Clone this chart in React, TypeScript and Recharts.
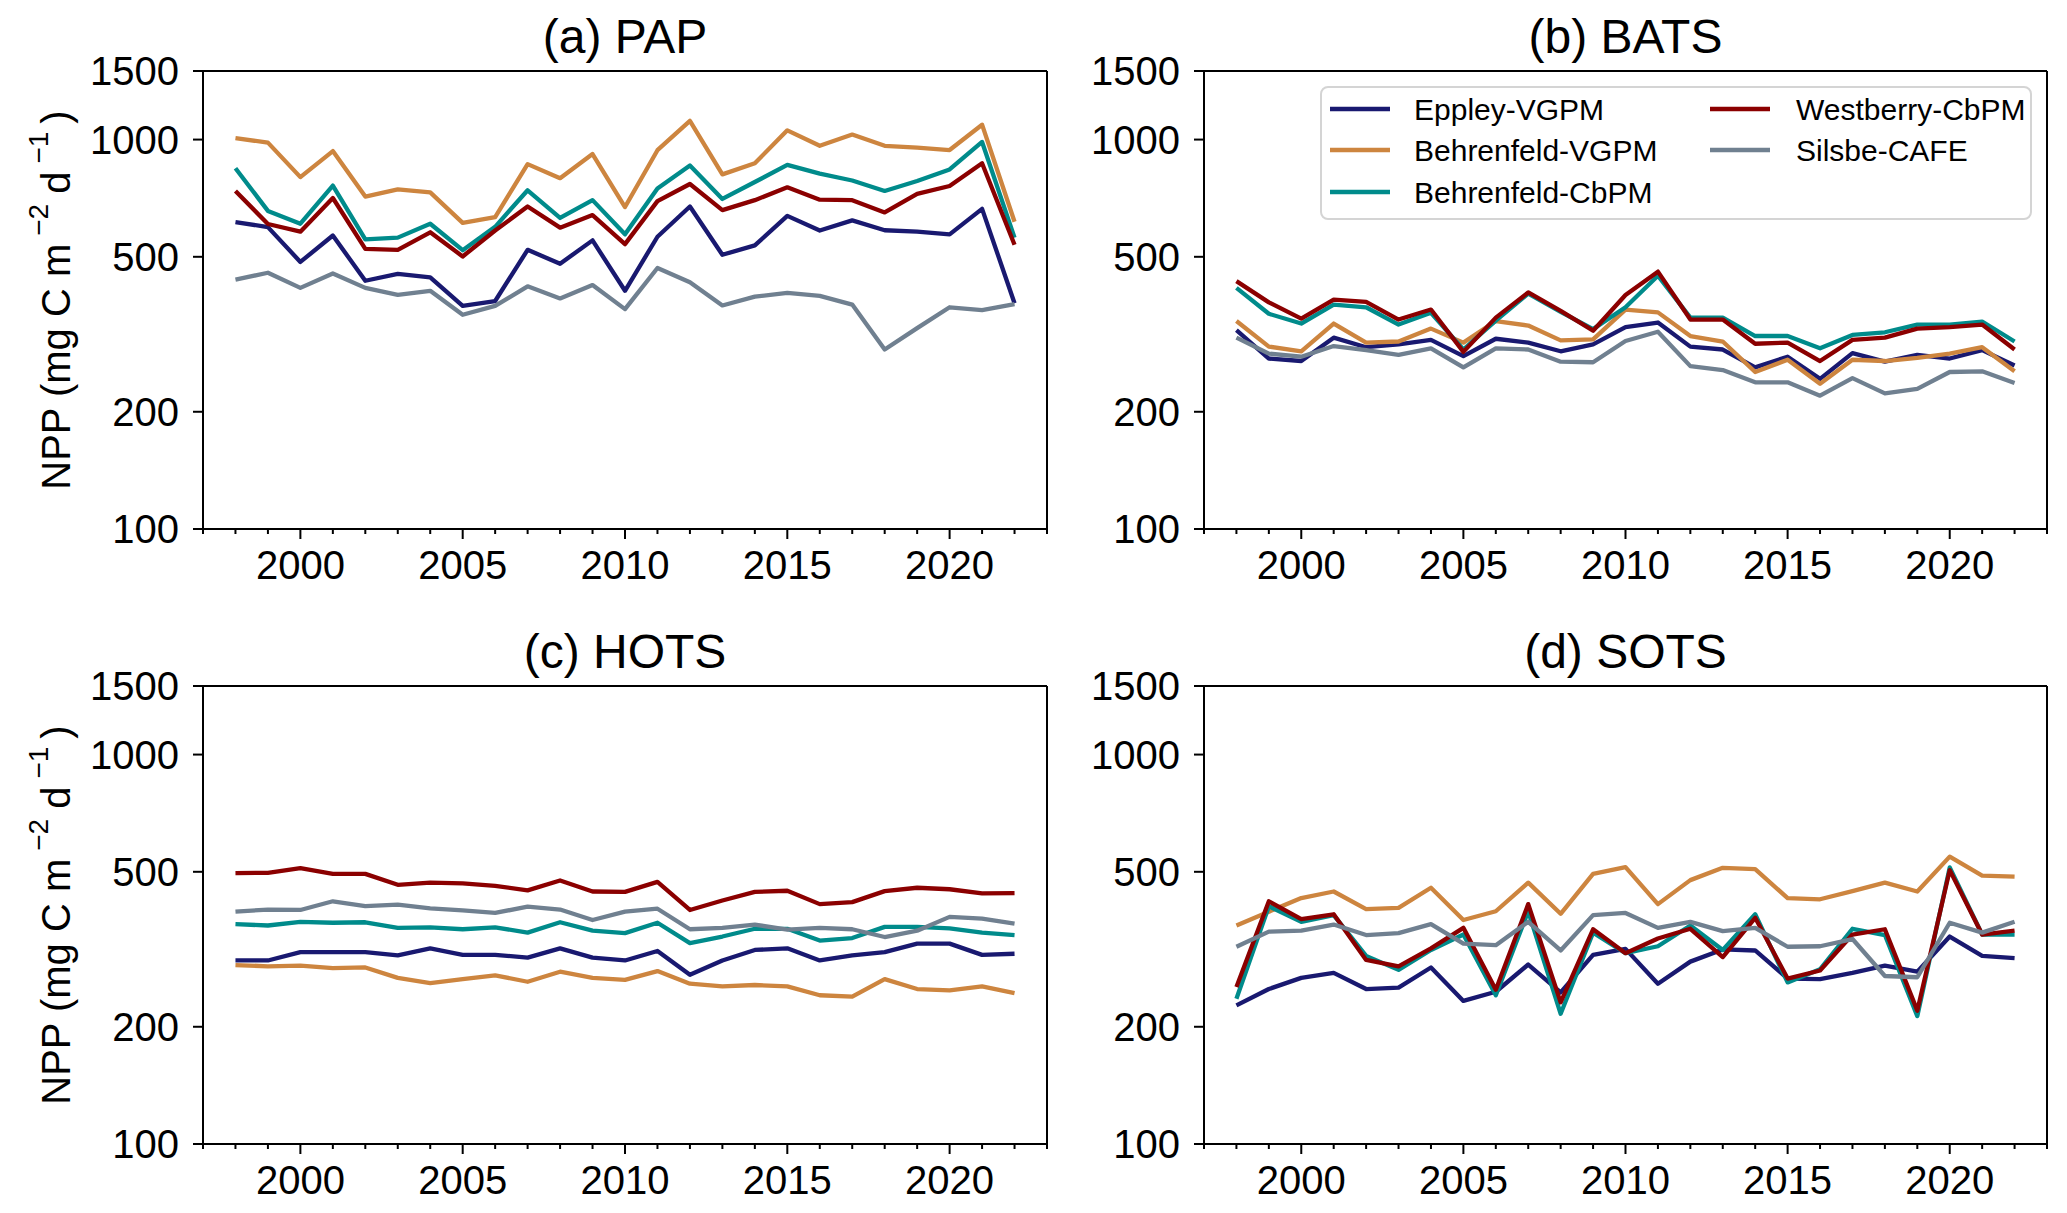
import React from "react";
import { LineChart, Line, XAxis, YAxis, ReferenceLine, Legend } from "recharts";

const FONT = "'Liberation Sans', Arial, Helvetica, sans-serif";

const years = [1998, 1999, 2000, 2001, 2002, 2003, 2004, 2005, 2006, 2007, 2008, 2009, 2010, 2011, 2012, 2013, 2014, 2015, 2016, 2017, 2018, 2019, 2020, 2021, 2022];
const xTicks = [1997, 1998, 1999, 2000, 2001, 2002, 2003, 2004, 2005, 2006, 2007, 2008, 2009, 2010, 2011, 2012, 2013, 2014, 2015, 2016, 2017, 2018, 2019, 2020, 2021, 2022, 2023];
const yTicks = [100, 200, 500, 1000, 1500];

const models = ["Eppley-VGPM", "Behrenfeld-VGPM", "Behrenfeld-CbPM", "Westberry-CbPM", "Silsbe-CAFE"];
const colors = ["#191970", "#cd853f", "#008b8b", "#8b0000", "#708090"];

// (a) PAP
const papEppley = [614, 596, 485, 567, 434, 452, 443, 374, 385, 521, 480, 551, 409, 563, 673, 506, 535, 637, 584, 620, 585, 580, 571, 664, 380];
const papBehVgpm = [1009, 982, 801, 934, 714, 745, 732, 611, 632, 865, 796, 918, 671, 939, 1117, 814, 869, 1056, 964, 1030, 964, 953, 940, 1092, 615];
const papBehCbpm = [844, 656, 608, 762, 554, 560, 608, 520, 597, 741, 629, 699, 571, 749, 858, 704, 778, 861, 818, 785, 738, 783, 838, 986, 560];
const papWestberry = [738, 607, 580, 708, 524, 521, 578, 501, 584, 673, 594, 640, 539, 695, 769, 659, 699, 754, 701, 699, 650, 725, 760, 869, 537];
const papSilsbe = [437, 455, 416, 453, 416, 399, 409, 355, 374, 420, 391, 423, 367, 468, 430, 375, 395, 404, 397, 377, 289, 328, 371, 365, 378];

// (b) BATS
const batsEppley = [324, 274, 270, 310, 293, 298, 306, 278, 308, 301, 286, 298, 330, 339, 294, 289, 260, 277, 243, 283, 269, 280, 274, 288, 263];
const batsBehVgpm = [342, 294, 286, 337, 301, 303, 327, 301, 342, 333, 305, 307, 366, 360, 313, 303, 253, 272, 236, 272, 270, 275, 282, 293, 254];
const batsBehCbpm = [416, 357, 337, 377, 371, 335, 359, 289, 343, 402, 361, 326, 371, 447, 349, 349, 313, 313, 291, 315, 320, 335, 335, 341, 303];
const batsWestberry = [433, 382, 347, 388, 383, 345, 366, 285, 349, 405, 363, 323, 399, 458, 345, 345, 299, 301, 270, 306, 310, 327, 330, 335, 289];
const batsSilsbe = [310, 282, 277, 295, 288, 280, 291, 260, 291, 289, 269, 268, 304, 321, 262, 256, 238, 238, 220, 244, 223, 229, 253, 254, 237];

// (c) HOTS
const hotsEppley = [296, 296, 311, 311, 311, 305, 318, 306, 306, 301, 318, 301, 296, 313, 272, 296, 315, 318, 296, 305, 311, 327, 327, 306, 308];
const hotsBehVgpm = [288, 286, 287, 283, 284, 267, 259, 265, 271, 261, 277, 267, 264, 278, 258, 254, 256, 254, 241, 239, 265, 250, 248, 254, 244];
const hotsBehCbpm = [367, 364, 372, 370, 371, 359, 360, 356, 360, 349, 371, 353, 348, 370, 328, 341, 357, 357, 333, 338, 361, 361, 358, 349, 344];
const hotsWestberry = [496, 497, 511, 494, 494, 463, 469, 467, 460, 448, 475, 445, 444, 471, 399, 422, 444, 447, 413, 418, 446, 455, 451, 440, 441];
const hotsSilsbe = [395, 400, 399, 420, 408, 412, 403, 398, 392, 407, 400, 376, 395, 402, 356, 359, 366, 355, 359, 356, 340, 353, 383, 379, 368];

// (d) SOTS
const sotsEppley = [227, 250, 267, 275, 250, 252, 284, 233, 246, 289, 245, 306, 317, 258, 294, 316, 314, 266, 265, 275, 287, 277, 341, 304, 300];
const sotsBehVgpm = [364, 395, 428, 445, 401, 404, 455, 376, 396, 469, 390, 494, 514, 413, 476, 512, 508, 428, 425, 446, 469, 445, 547, 489, 486];
const sotsBehCbpm = [236, 408, 372, 387, 304, 280, 315, 345, 241, 396, 216, 349, 309, 322, 364, 315, 389, 260, 281, 357, 344, 213, 513, 345, 345];
const sotsWestberry = [253, 420, 378, 389, 297, 286, 318, 359, 249, 413, 231, 356, 309, 337, 357, 302, 381, 266, 279, 345, 356, 220, 505, 345, 353];
const sotsSilsbe = [321, 351, 353, 366, 344, 348, 367, 327, 324, 372, 314, 387, 392, 359, 372, 352, 359, 321, 322, 336, 270, 268, 370, 349, 372];

const buildRows = (series: number[][]) =>
  years.map((year, i) => {
    const row: Record<string, number> = { year };
    series.forEach((s, k) => {
      row[models[k]] = s[i];
    });
    return row;
  });

const YAXIS_W = 120;
const XAXIS_H = 60;

const panels = [
  {
    title: "(a) PAP",
    rows: buildRows([papEppley, papBehVgpm, papBehCbpm, papWestberry, papSilsbe]),
    left: 0, top: 0, width: 1060, height: 600,
    margin: { top: 71, right: 13, bottom: 11, left: 83 },
    yLabel: true, legend: false,
  },
  {
    title: "(b) BATS",
    rows: buildRows([batsEppley, batsBehVgpm, batsBehCbpm, batsWestberry, batsSilsbe]),
    left: 1060, top: 0, width: 1000, height: 600,
    margin: { top: 71, right: 13, bottom: 11, left: 24 },
    yLabel: false, legend: true,
  },
  {
    title: "(c) HOTS",
    rows: buildRows([hotsEppley, hotsBehVgpm, hotsBehCbpm, hotsWestberry, hotsSilsbe]),
    left: 0, top: 600, width: 1060, height: 613,
    margin: { top: 86, right: 13, bottom: 9, left: 83 },
    yLabel: true, legend: false,
  },
  {
    title: "(d) SOTS",
    rows: buildRows([sotsEppley, sotsBehVgpm, sotsBehCbpm, sotsWestberry, sotsSilsbe]),
    left: 1060, top: 600, width: 1000, height: 613,
    margin: { top: 86, right: 13, bottom: 9, left: 24 },
    yLabel: false, legend: false,
  },
];

const XTick = (props: any) => {
  const { x, y, payload } = props;
  const major = payload.value % 5 === 0;
  return (
    <g>
      <line x1={x} x2={x} y1={y} y2={y + (major ? 10 : 5)} stroke="#000" strokeWidth={2} />
      {major && (
        <text x={x} y={y + 50} textAnchor="middle" fontSize={40} fontFamily={FONT} fill="#000">
          {payload.value}
        </text>
      )}
    </g>
  );
};

const YTick = (props: any) => {
  const { x, y, payload } = props;
  return (
    <g>
      <line x1={x - 10} x2={x} y1={y} y2={y} stroke="#000" strokeWidth={2} />
      <text x={x - 24} y={y} dy="0.36em" textAnchor="end" fontSize={40} fontFamily={FONT} fill="#000">
        {payload.value}
      </text>
    </g>
  );
};

const YLabel = ({ cx, cy }: { cx: number; cy: number }) => (
  <text
    transform={`translate(${cx},${cy}) rotate(-90)`}
    textAnchor="middle"
    fontSize={40}
    fontFamily={FONT}
    fill="#000"
  >
    NPP (mg C m
    <tspan fontSize={28} dy={-22} dx={8}>−2</tspan>
    <tspan dy={22} dx={10}>d</tspan>
    <tspan fontSize={28} dy={-22} dx={8}>−1</tspan>
    <tspan dy={22} dx={8}>)</tspan>
  </text>
);

const LegendBox = () => {
  const cols = [
    { hx: 10, tx: 94, items: [0, 1, 2] },
    { hx: 390, tx: 476, items: [3, 4] },
  ];
  const rowY = [23, 64, 106];
  return (
    <svg width={712} height={134} style={{ display: "block" }}>
      <rect x={1} y={1} width={710} height={132} rx={7} fill="#fff" fillOpacity={0.8} stroke="#d4d4d4" strokeWidth={2} />
      {cols.map((c) =>
        c.items.map((m, r) => (
          <g key={models[m]}>
            <line x1={c.hx} x2={c.hx + 60} y1={rowY[r]} y2={rowY[r]} stroke={colors[m]} strokeWidth={4.5} />
            <text x={c.tx} y={rowY[r]} dy="0.36em" fontSize={30} fontFamily={FONT} fill="#000">
              {models[m]}
            </text>
          </g>
        ))
      )}
    </svg>
  );
};

const Panel = ({ p }: { p: (typeof panels)[number] }) => {
  const plotLeft = p.margin.left + YAXIS_W;
  const plotW = p.width - p.margin.right - plotLeft;
  const titleX = plotLeft + plotW / 2;
  const titleY = p.margin.top - 18;
  const plotTop = p.margin.top;
  const plotH = p.height - p.margin.bottom - XAXIS_H - plotTop;
  return (
    <div style={{ position: "absolute", left: p.left, top: p.top }}>
      <LineChart width={p.width} height={p.height} data={p.rows} margin={p.margin}>
        <XAxis
          dataKey="year"
          type="number"
          domain={[1997, 2023]}
          ticks={xTicks}
          interval={0}
          allowDataOverflow
          height={XAXIS_H}
          tickLine={false}
          tickSize={0}
          tickMargin={0}
          tick={<XTick />}
          axisLine={{ stroke: "#000", strokeWidth: 2 }}
        />
        <YAxis
          type="number"
          scale="log"
          domain={[100, 1500]}
          ticks={yTicks}
          interval={0}
          allowDataOverflow
          width={YAXIS_W}
          tickLine={false}
          tickSize={0}
          tickMargin={0}
          tick={<YTick />}
          axisLine={{ stroke: "#000", strokeWidth: 2 }}
          label={
            p.yLabel
              ? { content: () => <YLabel cx={70} cy={plotTop + plotH / 2} /> }
              : undefined
          }
        />
        <ReferenceLine
          y={1500}
          stroke="#000"
          strokeWidth={2}
          label={{
            content: () => (
              <text x={titleX} y={titleY} textAnchor="middle" fontSize={48} fontFamily={FONT} fill="#000">
                {p.title}
              </text>
            ),
          }}
        />
        <ReferenceLine x={2023} stroke="#000" strokeWidth={2} />
        {models.map((m, k) => (
          <Line
            key={m}
            type="linear"
            dataKey={m}
            stroke={colors[k]}
            strokeWidth={4.3}
            strokeLinejoin="round"
            dot={false}
            activeDot={false}
            isAnimationActive={false}
          />
        ))}
        {p.legend && (
          <Legend
            layout="vertical"
            align="center"
            verticalAlign="middle"
            content={() => <LegendBox />}
            wrapperStyle={{ left: 260, top: 86, width: 712, height: 134, margin: 0, padding: 0 }}
          />
        )}
      </LineChart>
    </div>
  );
}

export default function App() {
  return (
    <div style={{ position: "absolute", left: 0, top: 0, width: 2067, height: 1213, background: "#fff", fontFamily: FONT }}>
      {panels.map((p) => (
        <Panel key={p.title} p={p} />
      ))}
    </div>
  );
}
